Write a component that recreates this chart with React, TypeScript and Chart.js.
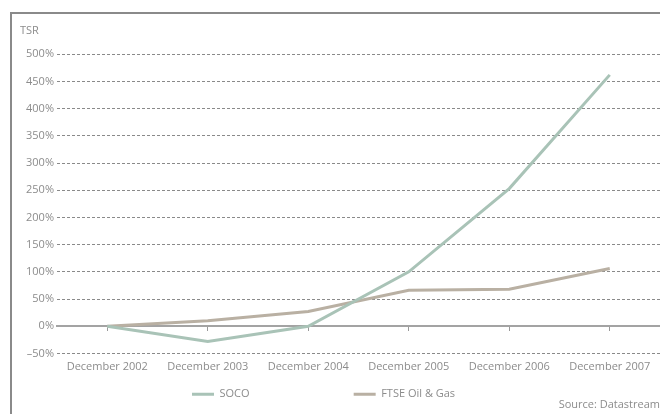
import React, { useEffect, useRef } from "react";
import { Chart, registerables } from "chart.js";

Chart.register(...registerables);

const categories = ["December 2002", "December 2003", "December 2004", "December 2005", "December 2006", "December 2007"];
const socoValues = [0, -28, 0, 100, 253, 462];
const ftseValues = [0, 10, 27, 66, 68, 106];
const seriesNames = ["SOCO", "FTSE Oil & Gas"];
const yMin = -50;
const yMax = 500;
const yStep = 50;

const SOCO_COLOR = "#a9c3b7";
const FTSE_COLOR = "#b9b0a3";
const TEXT_COLOR = "#8c8c8c";
const FONT = "'Open Sans', sans-serif";
const LEGEND_SPACERS = 3;

export default function App() {
  const ref = useRef<HTMLCanvasElement | null>(null);

  useEffect(() => {
    if (!ref.current) return;
    const chart = new Chart(ref.current, {
      type: "line",
      data: {
        labels: categories,
        datasets: [
          {
            label: seriesNames[0],
            data: socoValues,
            borderColor: SOCO_COLOR,
            backgroundColor: SOCO_COLOR,
            borderWidth: 3,
            pointRadius: 0,
            tension: 0,
          },
          {
            label: seriesNames[1],
            data: ftseValues,
            borderColor: FTSE_COLOR,
            backgroundColor: FTSE_COLOR,
            borderWidth: 3,
            pointRadius: 0,
            tension: 0,
          },
        ],
      },
      options: {
        animation: false,
        responsive: false,
        maintainAspectRatio: false,
        layout: { padding: { left: 8, right: 0, top: 0, bottom: 0 } },
        font: { family: FONT, size: 11 },
        scales: {
          x: {
            type: "category",
            offset: true,
            grid: { display: false },
            border: { display: false },
            ticks: { color: TEXT_COLOR, font: { family: FONT, size: 11 }, padding: -1, maxRotation: 0 },
            afterFit: (scale: any) => {
              scale.height = 30;
            },
          },
          x0: {
            type: "category",
            labels: categories,
            offset: true,
            position: { y: 0 } as any,
            grid: {
              display: true,
              drawOnChartArea: false,
              drawTicks: true,
              tickLength: 4,
              color: "#9a9a9a",
              lineWidth: 1,
            },
            border: { display: true, color: "#a3a3a3", width: 2 },
            ticks: { display: false },
          },
          y: {
            min: yMin,
            max: yMax,
            ticks: {
              stepSize: yStep,
              color: TEXT_COLOR,
              font: { family: FONT, size: 11 },
              padding: 3,
              callback: (v: any) => (Number(v) < 0 ? "\u2013" + Math.abs(Number(v)) : String(v)) + "%",
            },
            border: { display: false, dash: [3, 2] },
            grid: {
              drawTicks: false,
              color: (ctx: any) => (ctx.tick && ctx.tick.value === 0 ? "rgba(0,0,0,0)" : "#8a8a8a"),
              lineWidth: 1,
            },
            afterFit: (scale: any) => {
              scale.width = 37;
            },
          },
        },
        plugins: {
          title: {
            display: true,
            text: "TSR",
            align: "start",
            color: TEXT_COLOR,
            font: { family: FONT, size: 11, weight: "normal" },
            padding: { top: 10, bottom: 17 },
          },
          subtitle: {
            display: true,
            text: "Source: Datastream",
            position: "bottom",
            align: "end",
            color: TEXT_COLOR,
            font: { family: FONT, size: 11, weight: "normal" },
            padding: { top: -12, bottom: 3 },
          },
          legend: {
            position: "bottom",
            labels: {
              color: TEXT_COLOR,
              font: { family: FONT, size: 11 },
              boxWidth: 22,
              boxHeight: 3,
              padding: 5.4,
              generateLabels: (c: any) => {
                const ds = c.data.datasets;
                const item = (i: number) => ({
                  text: ds[i].label,
                  fillStyle: ds[i].borderColor,
                  strokeStyle: ds[i].borderColor,
                  lineWidth: 0,
                  fontColor: TEXT_COLOR,
                  hidden: false,
                  datasetIndex: i,
                });
                const spacer = () => ({
                  text: "",
                  fillStyle: "rgba(0,0,0,0)",
                  strokeStyle: "rgba(0,0,0,0)",
                  lineWidth: 0,
                  fontColor: TEXT_COLOR,
                  hidden: false,
                });
                const out: any[] = [item(0)];
                for (let k = 0; k < LEGEND_SPACERS; k++) out.push(spacer());
                out.push(item(1));
                out.push(spacer());
                return out;
              },
            },
          },
          tooltip: { enabled: false },
        },
      },
    });
    return () => chart.destroy();
  }, []);

  return (
    <div style={{ position: "fixed", left: 0, top: 0, width: 660, height: 414, background: "#fff" }}>
      <div
        style={{
          position: "absolute",
          left: 10,
          top: 12,
          right: 0,
          bottom: 0,
          borderTop: "2px solid #8a8a8a",
          borderLeft: "2px solid #8a8a8a",
        }}
      >
        <canvas ref={ref} width={648} height={400} style={{ display: "block" }} />
      </div>
    </div>
  );
}
